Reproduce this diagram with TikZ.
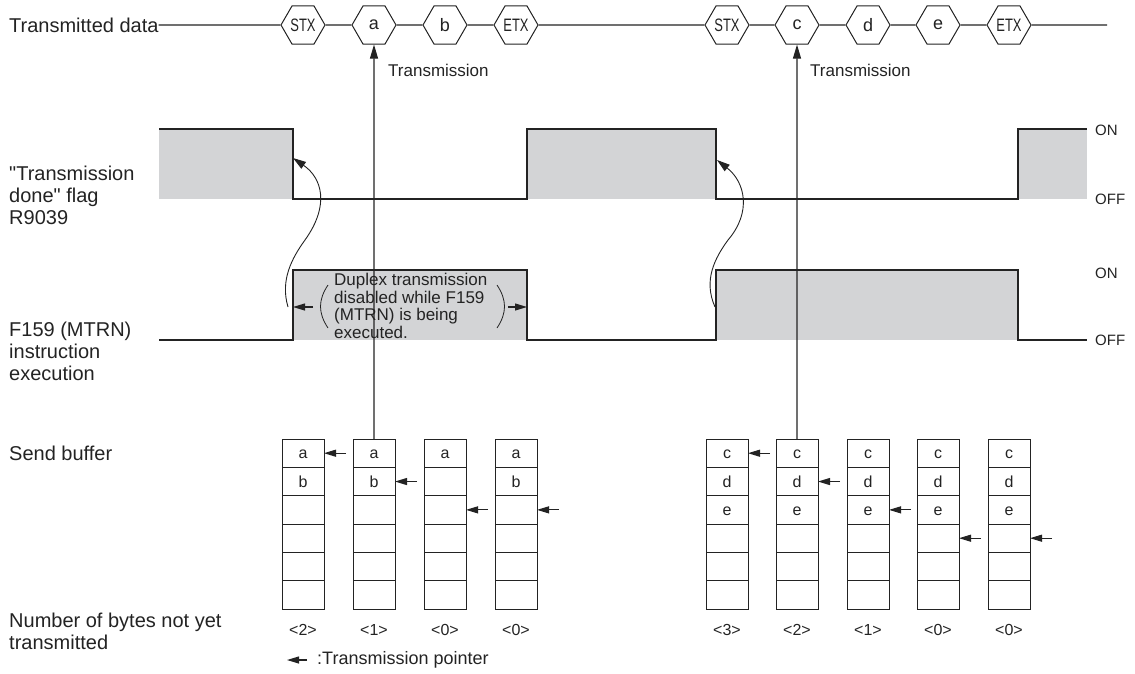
\documentclass[tikz,border=0pt]{standalone}
\usepackage{fontspec}
\setmainfont{Liberation Sans}[Ligatures=TeXOff]
\usepackage{graphicx}
\usetikzlibrary{arrows.meta,positioning,shapes.geometric}

\definecolor{ink}{RGB}{35,35,35}
\definecolor{sig}{RGB}{211,212,214}

\begin{document}
\begin{tikzpicture}[
  x=1pt,y=-1pt,
  every node/.style={text=ink},
  lbl/.style={anchor=west,align=left,inner sep=0pt,font=\fontsize{20}{22}\selectfont},
  small/.style={inner sep=0pt,font=\fontsize{17}{17.7}\selectfont},
  level/.style={anchor=west,inner sep=0pt,font=\fontsize{15}{17}\selectfont},
  hexa/.style={draw=ink,fill=white,line width=1pt,regular polygon,regular polygon sides=6,minimum size=44pt,inner sep=0pt,font=\fontsize{18}{18}\selectfont},
  cell/.style={draw=ink,line width=1pt,outer sep=0pt,minimum width=42pt,minimum height=28.33pt,inner sep=0pt,text height=11pt,text depth=0pt,font=\fontsize{16}{16}\selectfont},
  cnt/.style={inner sep=0pt,font=\fontsize{16}{16}\selectfont},
  wire/.style={draw=ink,line width=1.1pt},
  tarrow/.style={draw=ink,line width=1.1pt,-{Triangle[length=14pt,width=8pt]}},
  ptr/.style={draw=ink,line width=1.1pt,-{Triangle[length=12pt,width=7pt]}},
  carrow/.style={draw=ink,line width=0.9pt,-{Triangle[length=13pt,width=8pt]}}
]
\useasboundingbox (0,0) rectangle (1135,673);

% row labels
\node[lbl] (tdata) at (9,25) {Transmitted data};
\node[lbl] (flag) at (9,195) {"Transmission\\done" flag\\R9039};
\node[lbl] (mtrn) at (9,351) {F159 (MTRN)\\instruction\\execution};
\node[lbl] (sbuf) at (9,453) {Send buffer};
\node[lbl] (nbytes) at (9,631) {Number of bytes not yet\\transmitted};

% transmitted data
\node[hexa] (stx1) at (303,25) {\scalebox{0.72}[1]{STX}};
\node[hexa] (ha) at (374,25) {a};
\node[hexa] (hb) at (445,25) {b};
\node[hexa] (etx1) at (516,25) {\scalebox{0.72}[1]{ETX}};
\node[hexa] (stx2) at (727,25) {\scalebox{0.72}[1]{STX}};
\node[hexa] (hc) at (797,25) {c};
\node[hexa] (hd) at (868,25) {d};
\node[hexa] (he) at (938,25) {e};
\node[hexa] (etx2) at (1009,25) {\scalebox{0.72}[1]{ETX}};
\coordinate (tend) at (1107,25);
\draw[wire] (tdata) -- (stx1) -- (ha) -- (hb) -- (etx1) -- (stx2) -- (hc) -- (hd) -- (he) -- (etx2) -- (tend);

% transmission done flag
\fill[sig] (159,129) rectangle (293,199);
\fill[sig] (527,129) rectangle (716,199);
\fill[sig] (1018,129) rectangle (1087,199);
\draw[wire] (159,129) -- (293,129) -- (293,199) -- (527,199) -- (527,129) -- (716,129) -- (716,199) -- (1018,199) -- (1018,129) -- (1087,129);
\node[level] (on1) at (1095,130) {ON};
\node[level] (off1) at (1095,199) {OFF};

% F159 execution
\fill[sig] (293,270) rectangle (527,340);
\fill[sig] (716,270) rectangle (1018,340);
\draw[wire] (159,340) -- (293,340) -- (293,270) -- (527,270) -- (527,340) -- (716,340) -- (716,270) -- (1018,270) -- (1018,340) -- (1087,340);
\node[level] (on2) at (1095,273) {ON};
\node[level] (off2) at (1095,340) {OFF};

% note
\node[small,align=left,anchor=west] (note) at (334,306) {Duplex transmission\\disabled while F159\\(MTRN) is being\\executed.};
\draw[ink,line width=0.8pt] (328,285) .. controls (318,300) and (318,313) .. (328,328);
\draw[ink,line width=0.8pt] (497,285) .. controls (507,300) and (507,313) .. (497,328);
\coordinate (d1a) at (313,307);
\coordinate (d1b) at (293,307);
\coordinate (d2a) at (508,307);
\coordinate (d2b) at (527,307);
\draw[ptr] (d1a) -- (d1b);
\draw[ptr] (d2a) -- (d2b);

% flag set by instruction
\coordinate (m1) at (288,307);
\coordinate (f1) at (293,158);
\coordinate (m2) at (715,307);
\coordinate (f2) at (717,160);
\draw[carrow] (m1) .. controls (280,280) and (292,258) .. (305,240) .. controls (330,205) and (322,178) .. (f1);
\draw[carrow] (m2) .. controls (703,280) and (715,258) .. (728,240) .. controls (752,212) and (745,182) .. (f2);

% send buffers
\foreach \nm/\cx/\ra/\rb/\rc in {L1/303/a/b/{},L2/374/a/b/{},L3/445/a/{}/{},L4/516/a/b/{},R1/727/c/d/e,R2/797/c/d/e,R3/868/c/d/e,R4/938/c/d/e,R5/1009/c/d/e}{
  \node[cell] (\nm-1) at (\cx,453.2) {\ra};
  \node[cell,below=0pt of \nm-1] (\nm-2) {\rb};
  \node[cell,below=0pt of \nm-2] (\nm-3) {\rc};
  \node[cell,below=0pt of \nm-3] (\nm-4) {};
  \node[cell,below=0pt of \nm-4] (\nm-5) {};
  \node[cell,below=0pt of \nm-5] (\nm-6) {};
}

% transmission pointers
\foreach \c/\r in {L1/1,L2/2,L3/3,L4/3,R1/1,R2/2,R3/3,R4/4,R5/4}{
  \coordinate (\c-p) at ([xshift=22pt]\c-\r.east);
  \draw[ptr] (\c-p) -- (\c-\r.east);
}

% bytes not yet transmitted
\foreach \c/\n in {L1/2,L2/1,L3/0,L4/0,R1/3,R2/2,R3/1,R4/0,R5/0}
  \node[cnt,below=15pt of \c-6] (\c-n) {<\n>};

% transmission
\draw[tarrow] (L2-1.north) -- (ha.south);
\draw[tarrow] (R2-1.north) -- (hc.south);
\node[small,anchor=west] (tx1) at (388,70) {Transmission};
\node[small,anchor=west] (tx2) at (810,70) {Transmission};

% legend
\node[anchor=west,inner sep=0pt,font=\fontsize{18}{20}\selectfont] (leg) at (317,660) {:Transmission pointer};
\coordinate (legtip) at (287,660);
\draw[ptr] ([xshift=-10pt]leg.west) -- (legtip);
\end{tikzpicture}
\end{document}
